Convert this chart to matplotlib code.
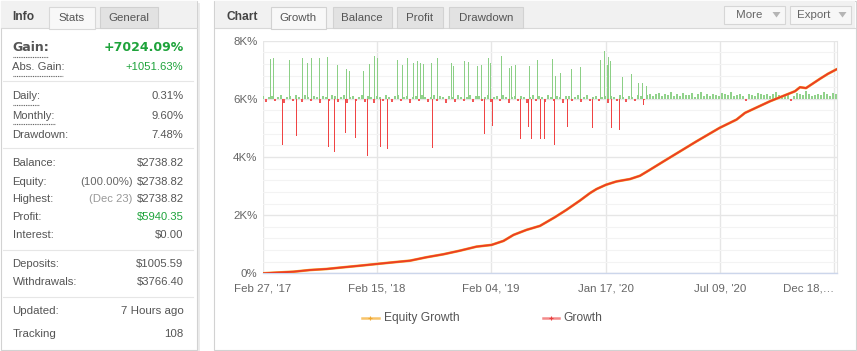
import numpy as np
import matplotlib
matplotlib.use('Agg')
import matplotlib.pyplot as plt
from matplotlib.patches import Rectangle, Polygon
from matplotlib.lines import Line2D

# ---------------- data ----------------
x_tick_idx = [0, 228, 456, 686, 914, 1142]
x_tick_labels = ["Feb 27, '17", "Feb 15, '18", "Feb 04, '19", "Jan 17, '20", "Jul 09, '20", "Dec 18,\u2026"]
y_ticks = [0, 2000, 4000, 6000, 8000]
y_tick_labels = ['0%', '2K%', '4K%', '6K%', '8K%']

growth_idx = [0, 61, 94, 127, 161, 194, 227, 261, 294, 327, 361, 394, 427, 457, 481, 501, 527,
              554, 584, 607, 634, 654, 667, 686, 707, 734, 754, 774, 801, 834, 867, 913, 947,
              964, 1014, 1064, 1074, 1086, 1114, 1130, 1148]
growth_val = [0, 55, 113, 148, 207, 262, 320, 379, 434, 552, 655, 779, 917, 976, 1114, 1320, 1493,
              1631, 1931, 2183, 2503, 2759, 2897, 3045, 3159, 3241, 3355, 3562, 3848, 4193, 4538, 5000, 5286,
              5517, 5917, 6262, 6400, 6370, 6690, 6862, 7024]
equity_val = list(growth_val)

# daily growth bars (plotted on a band whose zero sits at the 6K% line)
bar_base = 6000
spike_up_idx = [15, 21, 53, 79, 89, 97, 113, 129, 149, 167, 173, 201, 213, 223, 229, 269, 279, 289,
                301, 309, 315, 321, 337, 349, 377, 381, 403, 411, 429, 437, 451, 455, 477, 493, 497,
                505, 533, 549, 579, 585, 595, 617, 635, 675, 683, 689, 691, 695, 719, 722, 737, 751,
                759, 767]
spike_up_val = [1355, 1390, 1320, 1390, 1240, 1420, 1410, 1450, 1180, 1040, 950, 975, 1210, 1490, 1390,
                1320, 1180, 1390, 1217, 1310, 1217, 1207, 1241, 1414, 1217, 1138, 1310, 1276, 1138, 1172,
                1414, 1241, 1483, 1045, 1138, 1172, 1138, 1345, 1379, 793, 897, 1034, 1103, 1345, 1655,
                1172, 1448, 1310, 759, 759, 862, 552, 552, 448]
spike_dn_idx = [39, 67, 131, 143, 165, 185, 209, 235, 249, 339, 443, 459, 515, 531, 537, 555, 563,
                583, 609, 659, 697, 713, 761]
spike_dn_val = [-1576, -1265, -1645, -1830, -1170, -1345, -1955, -1645, -1725, -1690, -1207, -920,
                -1380, -965, -1380, -1380, -1380, -1576, -965, -1000, -1000, -1069, -207]

small_pre = [90, -120, 60, 110, -80, 70, 130, -150, 50, 100, -60, 120, 80, -110, 140, 60, -90, 100, 70, -130,
             110, 50, -70, 120, 90, -100, 60, 130, -140, 80,
             100, -60, 70, 120, -110, 90, 50, -150, 110, 80, -70, 130, 60, -100, 90, 120, -80, 70, 110, -130,
             50, 100, -90, 140, 60, -110, 80, 120, -60, 90,
             70, -140, 110, 50, -100, 130, 80, -70, 60, 120, -120, 90, 100, -80, 50, 140, -110, 70, 90, -60,
             120, 80, -150, 60, 110, -90, 100, 70, -130, 50,
             130, -80, 90, 60, -110, 120, 80, -70, 100, 50, -140, 110, 90, -60, 70, 130, -100, 60, 120, -90,
             80, 110, -70, 50, 100, -130, 90, 60, -80, 120,
             70, -110, 100, 50, -60, 130, 90, -40]
small_post = [120, 180, 90, 150, 210, 100, 160, 130, 240, 110, 170, 90, 200, 140, 120, 190, 80, 160, 230, 110,
              150, 100, 180, 130, 90, 210, 160, 120, 250, 100,
              140, 180, 110, -60, 170, 130, 90, 200, 150, 120, 180, 100, 160, 220, 130, 90, 170, 140, -80, 110,
              190, 150, 120, 260, 170, 100, 140, 180, 120, 230,
              150, 110, 200, 170]
small_vals = small_pre + small_post
small_idx = list(np.arange(0, 6 * len(small_vals), 6))

# info panel
info_rows1 = [('Daily:', '0.31%'), ('Monthly:', '9.60%'), ('Drawdown:', '7.48%')]
info_rows2 = [('Balance:', '', '$2738.82'), ('Equity:', '(100.00%)', '$2738.82'),
              ('Highest:', '(Dec 23)', '$2738.82'), ('Profit:', '', '$5940.35'), ('Interest:', '', '$0.00')]
info_rows3 = [('Deposits:', '$1005.59'), ('Withdrawals:', '$3766.40')]
info_rows4 = [('Updated:', '7 Hours ago'), ('Tracking', '108')]

# ---------------- figure ----------------
W, H = 857, 351
fig = plt.figure(figsize=(W / 100, H / 100), dpi=100)
fig.patch.set_facecolor('white')
FONT = ['Liberation Sans', 'DejaVu Sans']
PX = 0.72  # points per pixel at dpi 100
FS = 11.2  # body text size in px

def fx(x): return x / W
def fy(y): return 1 - y / H

def rect(x0, y0, x1, y1, fc, ec='none', lw=0.8, z=0):
    fig.add_artist(Rectangle((fx(x0), fy(y1)), (x1 - x0) / W, (y1 - y0) / H,
                             transform=fig.transFigure, facecolor=fc, edgecolor=ec,
                             linewidth=lw, zorder=z))

def line(x0, x1, y0, y1, color, lw=0.8, ls='-', z=1):
    fig.add_artist(Line2D([fx(x0), fx(x1)], [fy(y0), fy(y1)], transform=fig.transFigure,
                          color=color, lw=lw, ls=ls, zorder=z))

def txt(x, y, s, ha='left', px=FS, color='#555555', weight='normal', family=None):
    fig.text(fx(x), fy(y), s, ha=ha, va='center', fontsize=px * PX, color=color,
             fontweight=weight, family=family or FONT, zorder=5)

def tri(xc, yc, color='#b5b5b5'):
    fig.add_artist(Polygon([(fx(xc - 4), fy(yc - 2.5)), (fx(xc + 4), fy(yc - 2.5)), (fx(xc), fy(yc + 3))],
                           closed=True, transform=fig.transFigure, facecolor=color, edgecolor='none', zorder=3))

GREEN = '#1ea33b'
DOT = (0, (0.8, 0.8))

# ----- left panel -----
rect(2, 3, 200, 351, '#ececec', z=0)
rect(0.5, 1, 197, 349.5, 'white', '#d2d2d2', z=0.5)
rect(1, 1.5, 196.5, 28, '#f1f1f1', z=0.6)
line(1, 196.5, 28, 28, '#d8d8d8', z=0.7)
rect(49, 7, 95, 28.5, '#f8f8f8', '#d8d8d8', z=0.8)
rect(100, 7, 158, 28, '#e2e2e2', '#d0d0d0', z=0.8)
txt(12, 17, 'Info', px=12, color='#444', weight='bold')
txt(72, 18, 'Stats', ha='center', px=11.5, color='#555')
txt(129, 18, 'General', ha='center', px=11.5, color='#555')

LX, RX = 12.5, 183.5
txt(LX, 47.5, 'Gain:', px=12.5, color='#555', weight='bold', family=['DejaVu Sans'])
txt(RX, 47.5, '+7024.09%', ha='right', px=12.5, color=GREEN, weight='bold', family=['DejaVu Sans'])
line(12.7, 47.7, 57.3, 57.3, '#555', lw=0.8, ls=DOT)
txt(LX, 67.3, 'Abs. Gain:')
txt(RX, 67.3, '+1051.63%', ha='right', color=GREEN)
line(12.7, 62.7, 76, 76, '#555', lw=0.8, ls=DOT)
line(3, 193, 81, 81, '#e6e6e6')

for (lab, val), yy in zip(info_rows1, [96, 115.7, 134.7]):
    txt(LX, yy, lab)
    txt(RX, yy, val, ha='right')
line(12.7, 39.3, 105, 105, '#555', lw=0.8, ls=DOT)
line(12.7, 55, 124.3, 124.3, '#555', lw=0.8, ls=DOT)
line(3, 193, 148.3, 148.3, '#e6e6e6')

for (lab, pre, val), yy in zip(info_rows2, [163.3, 181.7, 199.3, 217, 234.7]):
    txt(LX, yy, lab)
    txt(RX, yy, val, ha='right', color=GREEN if lab == 'Profit:' else '#555555')
    if pre:
        txt(132.5, yy, pre, ha='right', color='#999' if lab == 'Highest:' else '#666')
line(3, 193, 250, 250, '#e6e6e6')
for (lab, val), yy in zip(info_rows3, [264.3, 281.7]):
    txt(LX, yy, lab)
    txt(RX, yy, val, ha='right')
line(3, 193, 296.7, 296.7, '#e6e6e6')
for (lab, val), yy in zip(info_rows4, [311.3, 334]):
    txt(LX, yy, lab, px=11.5)
    txt(RX, yy, val, ha='right', px=11.5)

# ----- right panel -----
rect(214.5, 1, 855.5, 349.5, 'white', '#d2d2d2', z=0.5)
rect(215, 1.5, 855, 28, '#f1f1f1', z=0.6)
line(215, 855, 28, 28, '#d8d8d8', z=0.7)
txt(226, 17, 'Chart', px=12, color='#444', weight='bold')
tabs = [('Growth', 270.7, 326, '#f8f8f8'), ('Balance', 332.7, 391.7, '#e2e2e2'),
        ('Profit', 397, 443, '#e2e2e2'), ('Drawdown', 449, 522.7, '#e2e2e2')]
for name, a, b, c in tabs:
    rect(a, 7, b, 28.5 if c == '#f8f8f8' else 28, c, '#d2d2d2', z=0.8)
    txt((a + b) / 2, 18, name, ha='center', px=11.5, color='#555')
for name, a, b, tx in [('More', 724, 785, 749), ('Export', 790, 851, 814)]:
    rect(a, 6, b, 23.5, '#f7f7f7', '#d6d6d6', z=0.8)
    txt(tx, 15.3, name, ha='center', px=11.5, color='#666')
    tri(b - 8.5, 14.5)

# ----- chart axes -----
ax_l, ax_r, ax_t, ax_b = 263, 837, 40.7, 273.3
ax = fig.add_axes([fx(ax_l), fy(ax_b), (ax_r - ax_l) / W, (ax_b - ax_t) / H])
ax.set_zorder(2)
ax.set_facecolor('none')
ax.set_xlim(0, 1148)
ax.set_ylim(0, 8000)
ax.set_yticks(y_ticks)
ax.set_yticklabels(y_tick_labels, fontsize=11.5 * PX, color='#666', family=FONT)
ax.set_yticks(np.arange(0, 8001, 400), minor=True)
ax.set_xticks(x_tick_idx)
ax.set_xticklabels(x_tick_labels, fontsize=11.5 * PX, color='#666', family=FONT)
ax.get_xticklabels()[-1].set_ha('right')
ax.tick_params(axis='both', which='both', length=0)
ax.tick_params(axis='y', pad=4)
ax.tick_params(axis='x', pad=7)
ax.grid(axis='y', which='minor', color='#f3f3f3', lw=0.8, zorder=0)
ax.grid(axis='y', which='major', color='#e6e6e6', lw=1.0, zorder=0)
ax.grid(axis='x', which='major', color='#e6e6e6', lw=1.0, zorder=0)
ax.set_axisbelow(True)
for s in ['top', 'left']:
    ax.spines[s].set_visible(False)
ax.spines['right'].set_color('#e6e6e6')
ax.spines['bottom'].set_color('#ccd6eb')
ax.spines['bottom'].set_linewidth(1.0)

sv = np.array(small_vals)
si = np.array(small_idx)
ax.bar(si, sv, bottom=bar_base, width=2.2, color=np.where(sv >= 0, '#92d28c', '#f25656'),
       linewidth=0, zorder=2)
ax.bar(spike_up_idx, spike_up_val, bottom=bar_base, width=1.8, color='#8ccf86', linewidth=0, zorder=2)
ax.bar(spike_dn_idx, spike_dn_val, bottom=bar_base, width=1.8, color='#f04444', linewidth=0, zorder=2)

ax.plot(growth_idx, equity_val, color='#f5a628', lw=1.9, zorder=3, solid_capstyle='round')
ax.plot(growth_idx, growth_val, color='#ec3d25', lw=1.35, zorder=4, solid_capstyle='round')

# ----- legend -----
line(362, 378.5, 318.3, 318.3, '#f8c46a', lw=1.8, z=3)
fig.add_artist(Line2D([fx(370.2)], [fy(318.3)], marker='+', ms=3, mew=0.8, color='#f0a830',
                      transform=fig.transFigure, zorder=4))
txt(383.5, 318, 'Equity Growth', px=12, color='#555')
line(542.5, 559, 318.3, 318.3, '#f48a8a', lw=1.8, z=3)
fig.add_artist(Line2D([fx(550.7)], [fy(318.3)], marker='+', ms=3, mew=0.8, color='#e84040',
                      transform=fig.transFigure, zorder=4))
txt(563, 318, 'Growth', px=12, color='#555')

fig.savefig('out.png', dpi=100, facecolor='white')
